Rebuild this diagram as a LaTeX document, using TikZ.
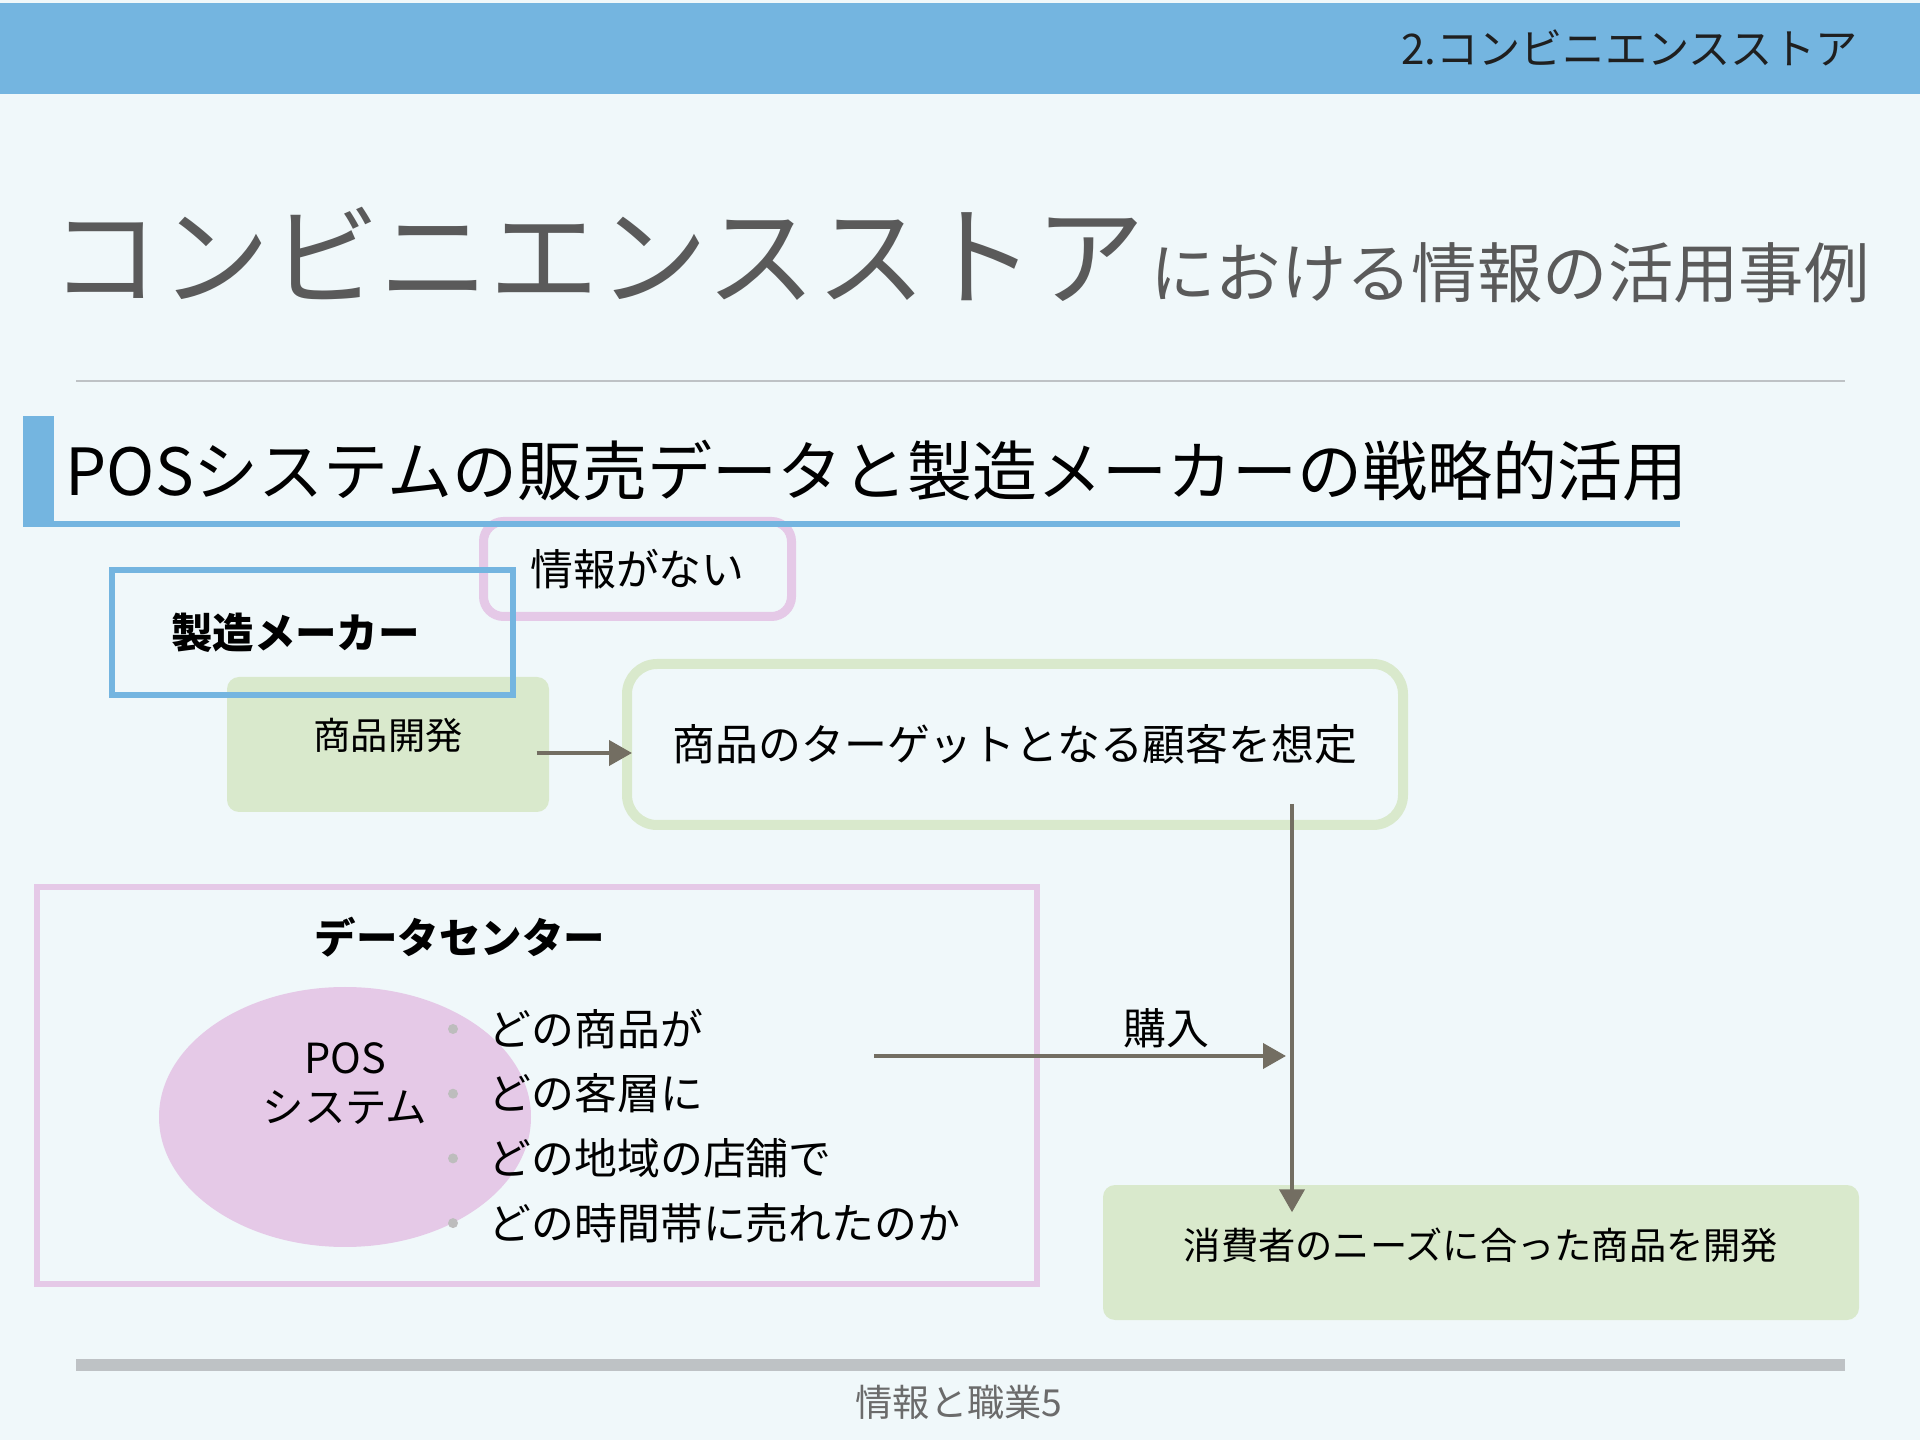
\documentclass[tikz,border=0pt]{standalone}
\usepackage{fontspec}
\setmainfont{Noto Sans CJK JP}
\usepackage{tikz}
\usetikzlibrary{arrows.meta,positioning,calc,shapes.geometric}
\definecolor{SlideBg}{HTML}{F0F8FA}
\definecolor{SlideBlue}{HTML}{74B5E0}
\definecolor{SlideGrey}{HTML}{5A5A5A}
\definecolor{RuleGrey}{HTML}{BEC2C5}
\definecolor{DiaGreen}{HTML}{D9E9CC}
\definecolor{DiaPink}{HTML}{E5C9E7}
\definecolor{ArrowBrown}{HTML}{736E62}
\definecolor{DotGrey}{HTML}{BDBDBD}

\begin{document}
\begin{tikzpicture}[x=0.1mm,y=-0.1mm,
  body/.style={font=\fontsize{12.2}{14.6}\selectfont,inner sep=0pt,text=black},
  boldbody/.style={font=\fontsize{11.8}{14}\selectfont\bfseries,inner sep=0pt},
  headtext/.style={font=\fontsize{12}{14}\selectfont,text=black!88,inner sep=0pt},
  bigtitle/.style={font=\fontsize{31.2}{36}\selectfont,text=SlideGrey,inner sep=0pt},
  smalltitle/.style={font=\fontsize{18.6}{22}\selectfont,text=SlideGrey,inner sep=0pt},
  sectitle/.style={font=\fontsize{18.5}{22}\selectfont,text=black,inner sep=0pt},
  greenbox/.style={fill=DiaGreen,rounded corners=1.2mm,inner sep=0pt,font=\fontsize{10.6}{12.5}\selectfont},
  arrow/.style={-{Triangle[length=2.3mm,width=2.5mm]},line width=0.4mm,ArrowBrown},
  footer/.style={font=\fontsize{10.6}{12.5}\selectfont,text=black!58,inner sep=0pt}]
  % slide frame
  \fill[SlideBg] (0,0) rectangle (1920,1440);
  \fill[SlideBlue] (0,3) rectangle (1920,94);
  \node[headtext,anchor=base east] (chapter) at (1858,65) {2.コンビニエンスストア};
  \node[bigtitle,anchor=base west] (title) at (50,298) {コンビニエンスストア};
  \node[smalltitle,base right=0.4mm of title] (titlesub) {における情報の活用事例};
  \draw[RuleGrey,line width=0.2mm] (76,381) -- (1845,381);
  \fill[SlideBlue] (23,416) rectangle (54,527);
  \node[sectitle,anchor=base west] (section) at (65,496) {POSシステムの販売データと製造メーカーの戦略的活用};
  % manufacturer side
  \node[greenbox,minimum width=32.2mm,minimum height=13.5mm,text height=8.9pt,text depth=6.15pt] (dev) at (388,744.5) {商品開発};
  \node[body,draw=DiaPink,line width=0.9mm,rounded corners=2mm,minimum width=30.8mm,minimum height=9.5mm] (nodata) at (637.5,569) {情報がない};
  \fill[SlideBlue] (54,521) rectangle (1680,527);
  \node[boldbody,draw=SlideBlue,line width=0.6mm,minimum width=40.1mm,minimum height=12.5mm] (maker) at (312.5,632.5) {製造メーカー\hspace*{3.4mm}};
  \node[body,draw=DiaGreen,line width=1mm,rounded corners=3mm,minimum width=77.6mm,minimum height=16.1mm] (target) at (1015,744.5) {商品のターゲットとなる顧客を想定};
  % data center
  \node[draw=DiaPink,line width=0.6mm,minimum width=100mm,minimum height=39.7mm] (center) at (537,1085.5) {};
  \node[boldbody] (centertitle) at (460,937) {データセンター};
  \node[ellipse,fill=DiaPink,minimum width=37.2mm,minimum height=26mm,inner sep=0pt] (pos) at (345,1117) {};
  \node[body,font=\fontsize{11.8}{14}\selectfont,align=center] (posname) at (345,1083.5) {POS\\システム};
  \foreach \txt [count=\i] in {どの商品が,どの客層に,どの地域の店舗で,どの時間帯に売れたのか}{
    \fill[DotGrey] (453,964.3+64.7*\i) circle[radius=0.5mm];
    \node[body,anchor=west] (item\i) at (488,964.3+64.7*\i) {\txt};
  }
  \node[greenbox,minimum width=75.6mm,minimum height=13.5mm,text height=8.8pt,text depth=5pt] (final) at (1481,1252.5) {消費者のニーズに合った商品を開発};
  % flows
  \coordinate (drop) at (1292,804);
  \coordinate (sale) at (874,1056);
  \draw[arrow] ([shift={(-13,8.5)}]dev.east) -- ([shift={(10,8.5)}]target.west);
  \draw[arrow] (drop) -- ($(drop |- final.north)+(0,28)$);
  \draw[arrow] (sale) -- ($(sale -| drop)+(-6,0)$) node[body,pos=0.71,above=1.7pt] (buy) {購入};
  % footer
  \draw[RuleGrey,line width=1.2mm] (76,1365) -- (1845,1365);
  \node[footer] (pagefoot) at (959,1402) {情報と職業5};
\end{tikzpicture}
\end{document}
